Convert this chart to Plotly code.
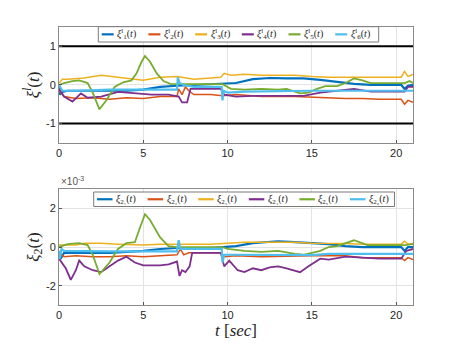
import plotly.graph_objects as go

# ---- data ----
colors = ["#0072BD", "#D95319", "#EDB120", "#7E2F8E", "#77AC30", "#4DBEEE"]

# top panel: xi^l_i(t)
xi1_t = [0, 0.05, 0.2, 0.5, 2, 4, 5, 6, 7, 8, 9.6, 10.5, 11.5, 12.5, 13.5, 14.5, 15.5, 16.5, 17.5, 18.5, 20.3, 20.5, 20.7, 21]
xi1_v = [-0.05, -0.25, -0.18, -0.15, -0.15, -0.15, -0.12, -0.05, -0.02, 0.0, 0.02, 0.05, 0.15, 0.18, 0.17, 0.17, 0.13, 0.08, 0.03, 0.0, 0.0, -0.1, -0.02, 0.0]

xi2_t = [0, 0.3, 1, 2, 3, 4, 5, 6, 7, 7.1, 7.3, 7.5, 7.7, 8, 9, 9.7, 10.5, 12, 14, 15, 16, 17, 18, 19, 20.3, 20.5, 20.7, 21]
xi2_v = [-0.15, -0.3, -0.35, -0.33, -0.37, -0.33, -0.35, -0.3, -0.3, -0.1, -0.25, -0.05, -0.15, -0.25, -0.25, -0.28, -0.25, -0.3, -0.3, -0.32, -0.33, -0.35, -0.35, -0.37, -0.37, -0.5, -0.4, -0.45]

xi3_t = [0, 0.2, 0.5, 1.5, 2.5, 3.5, 4.5, 5, 6, 7, 8, 9, 9.6, 9.8, 10.2, 11, 12, 13, 14, 15, 16, 17, 18, 19, 20.3, 20.5, 20.7, 20.9, 21]
xi3_v = [0.05, 0.15, 0.15, 0.18, 0.25, 0.2, 0.15, 0.12, 0.2, 0.22, 0.15, 0.18, 0.2, 0.3, 0.25, 0.28, 0.25, 0.25, 0.25, 0.22, 0.2, 0.2, 0.2, 0.2, 0.2, 0.35, 0.22, 0.25, 0.28]

xi4_t = [0, 0.3, 0.8, 1.3, 1.7, 2.5, 3.5, 4.5, 5.5, 6.5, 7.1, 7.3, 7.6, 7.8, 9.6, 9.8, 10.5, 11.5, 12.5, 13.5, 14.5, 15.5, 16.5, 17.5, 18.5, 20.5, 20.7, 21]
xi4_v = [-0.1, -0.3, -0.43, -0.22, -0.33, -0.3, -0.18, -0.22, -0.25, -0.25, -0.3, -0.45, -0.45, -0.1, -0.1, -0.25, -0.3, -0.28, -0.28, -0.27, -0.28, -0.2, -0.15, -0.1, -0.17, -0.17, -0.05, -0.05]

xi5_t = [0, 0.3, 0.8, 1.2, 1.7, 2.0, 2.4, 2.8, 3.3, 3.8, 4.3, 4.6, 4.9, 5.1, 5.4, 5.8, 6.2, 6.6, 7, 8, 9, 9.7, 10.2, 11, 12, 13, 13.5, 14.3, 14.8, 15.3, 15.8, 16.5, 17, 17.5, 18, 18.5, 19.5, 20.5, 20.8, 21]
xi5_v = [0.0, 0.05, 0.1, 0.12, 0.05, -0.2, -0.63, -0.4, -0.05, 0.07, 0.12, 0.3, 0.6, 0.75, 0.6, 0.3, 0.1, 0.03, 0.02, 0.02, 0.02, 0.02, -0.1, -0.12, -0.1, -0.12, -0.1, -0.22, -0.2, -0.1, -0.03, -0.03, 0.05, 0.17, 0.12, 0.05, 0.05, 0.05, 0.1, 0.05]

xi6_t = [0, 0.2, 1, 3, 5, 7, 7.05, 7.15, 7.4, 8, 9.65, 9.7, 9.75, 10, 11, 15, 21]
xi6_v = [0.0, -0.15, -0.15, -0.12, -0.12, -0.12, 0.2, 0.05, 0.0, -0.05, -0.05, -0.4, -0.15, -0.2, -0.17, -0.15, -0.15]

bounds = [1, -1]

# bottom panel: xi_2i(t), units of 1e-3
b1_t = [0, 0.1, 0.3, 1, 2, 3, 4, 5, 6, 7, 8, 9, 9.7, 10.5, 11.5, 12.5, 13, 14, 15, 16, 17, 18, 20.3, 20.5, 20.7, 21]
b1_v = [-0.2, -0.6, -0.3, -0.3, -0.3, -0.3, -0.25, -0.2, -0.1, -0.05, -0.05, -0.05, 0.0, 0.05, 0.2, 0.28, 0.3, 0.25, 0.2, 0.15, 0.05, 0.0, 0.0, -0.2, 0.0, 0.0]

b2_t = [0, 0.3, 1, 2, 3, 4, 5, 6, 7, 7.2, 7.4, 7.7, 8.5, 9.6, 9.8, 10.5, 12, 14, 15, 16, 17, 18, 20.3, 20.5, 20.7, 21]
b2_v = [-0.3, -0.5, -0.45, -0.5, -0.5, -0.45, -0.5, -0.45, -0.4, -0.1, -0.4, -0.3, -0.3, -0.3, -0.5, -0.45, -0.5, -0.45, -0.45, -0.45, -0.45, -0.55, -0.55, -0.7, -0.55, -0.65]

b3_t = [0, 1, 1.5, 2.5, 3.5, 4.5, 5, 6, 7, 8, 9, 10, 11, 12, 13, 14, 15, 16, 17, 18, 20.3, 20.5, 20.7, 21]
b3_v = [0.1, 0.1, 0.2, 0.2, 0.15, 0.12, 0.1, 0.15, 0.15, 0.15, 0.15, 0.2, 0.25, 0.25, 0.25, 0.25, 0.2, 0.2, 0.18, 0.15, 0.15, 0.3, 0.15, 0.2]

b4_t = [0, 0.4, 0.7, 1.0, 1.2, 1.5, 2, 2.5, 3, 3.5, 4, 4.5, 5, 6, 6.5, 7, 7.15, 7.3, 7.5, 7.75, 7.9, 9.6, 9.8, 10.1, 10.6, 11, 11.5, 12, 12.5, 13, 13.5, 14.3, 14.8, 15.5, 16, 17, 18, 19, 20.3, 20.6, 21]
b4_v = [-0.6, -1.1, -1.7, -1.2, -0.7, -1.0, -1.2, -1.3, -1.0, -0.7, -0.5, -0.8, -0.95, -0.95, -0.9, -0.75, -1.5, -1.2, -1.3, -1.0, -0.3, -0.3, -1.0, -0.7, -1.2, -1.3, -1.1, -1.2, -1.05, -1.0, -1.1, -1.3, -1.0, -0.6, -0.65, -0.5, -0.55, -0.6, -0.6, -0.2, -0.1]

b5_t = [0, 0.5, 1.2, 1.7, 2.0, 2.4, 3, 3.5, 4, 4.5, 4.8, 5.1, 5.4, 6, 6.5, 7, 8, 9, 9.7, 10, 11, 12, 13, 14, 14.5, 15.5, 16, 16.5, 17.5, 18.3, 19.5, 20.5, 21]
b5_v = [0.0, 0.15, 0.2, 0.1, -0.4, -1.4, -0.8, -0.1, 0.2, 0.25, 1.0, 1.7, 1.4, 0.5, 0.05, 0.0, 0.0, 0.0, 0.0, -0.1, -0.2, -0.25, -0.2, -0.35, -0.4, -0.2, 0.0, 0.05, 0.35, 0.1, 0.1, 0.1, 0.15]

b6_t = [0, 0.05, 0.15, 0.3, 3, 7, 7.1, 7.2, 7.4, 9.65, 9.7, 9.8, 10, 15, 16, 21]
b6_v = [-0.2, -0.6, -0.1, -0.2, -0.22, -0.22, 0.35, -0.1, -0.1, -0.1, -0.8, -0.4, -0.4, -0.42, -0.35, -0.35]

top_series = [(xi1_t, xi1_v), (xi2_t, xi2_v), (xi3_t, xi3_v), (xi4_t, xi4_v), (xi5_t, xi5_v), (xi6_t, xi6_v)]
bot_series = [(b1_t, b1_v), (b2_t, b2_v), (b3_t, b3_v), (b4_t, b4_v), (b5_t, b5_v), (b6_t, b6_v)]
top_names = [f"<i>ξ</i><sup>l</sup><sub>{i}</sub>(<i>t</i>)" for i in range(1, 7)]
sub_digits = "₁₂₃₄₅₆"
bot_names = [f"<i>ξ</i><sub>2{sub_digits[i]}</sub>(<i>t</i>)" for i in range(6)]
widths = [2.2, 1.5, 1.5, 1.8, 1.8, 2.2]

x_ticks = [0, 5, 10, 15, 20]
top_ticks = [-1, 0, 1]
bot_ticks = [-2, 0, 2]

SERIF = "Liberation Serif"
SANS = "Liberation Sans"
TXT = "#262626"

W, H = 457, 343
ML, MR, MT, MB = 59, 44, 27, 38
PW, PH = W - ML - MR, H - MT - MB


def px(x):
    return (x - ML) / PW


def py(y):
    return (H - MB - y) / PH


fig = go.Figure()

for (t, v), name, c, w in zip(top_series, top_names, colors, widths):
    fig.add_trace(go.Scatter(x=t, y=v, mode="lines", name=name, line=dict(color=c, width=w),
                             xaxis="x", yaxis="y", showlegend=False))
for b in bounds:
    fig.add_trace(go.Scatter(x=[0, 21], y=[b, b], mode="lines", line=dict(color="black", width=2),
                             showlegend=False, xaxis="x", yaxis="y"))
for (t, v), name, c, w in zip(bot_series, bot_names, colors, widths):
    fig.add_trace(go.Scatter(x=t, y=v, mode="lines", name=name, line=dict(color=c, width=w),
                             xaxis="x2", yaxis="y2", showlegend=False))

# hand-drawn legends (MATLAB style: short samples, tight spacing)
def draw_legend(names, box, first_line, step, line_len):
    x0, y0, x1, y1 = box
    fig.add_shape(type="rect", xref="paper", yref="paper", x0=px(x0), x1=px(x1),
                  y0=py(y1), y1=py(y0), line=dict(color="#7a7a7a", width=1), fillcolor="white",
                  layer="above")
    yc = (y0 + y1) / 2
    for i, (name, c) in enumerate(zip(names, colors)):
        lx = first_line + i * step
        fig.add_shape(type="line", xref="paper", yref="paper", x0=px(lx), x1=px(lx + line_len),
                      y0=py(yc), y1=py(yc), line=dict(color=c, width=2.2), layer="above")
        fig.add_annotation(text=name, xref="paper", yref="paper", x=px(lx + line_len + 1.5),
                           y=py(yc), xanchor="left", yanchor="middle", showarrow=False,
                           font=dict(family=SERIF, size=10, color=TXT))


draw_legend(top_names, (98.3, 26.7, 378.7, 42.0), 101.7, 46.7, 12)
draw_legend(bot_names, (93.7, 192.0, 394.5, 206.5), 97.0, 50.6, 15.5)

axis_common = dict(range=[0, 21], showgrid=True, gridcolor="#e3e3e3", gridwidth=1,
                   showline=True, linecolor="#8a8a8a", linewidth=1, mirror=True,
                   ticks="inside", ticklen=3, tickcolor="#555", zeroline=False, automargin=False,
                   tickfont=dict(family=SANS, size=11, color=TXT))

fig.update_layout(
    width=W, height=H,
    margin=dict(l=ML, r=MR, t=MT, b=MB),
    paper_bgcolor="white", plot_bgcolor="white",
    showlegend=False,
    xaxis=dict(axis_common, domain=[0, 1], anchor="y", tickvals=x_ticks),
    yaxis=dict(axis_common, domain=[0.583, 1], anchor="x", range=[-1.5, 1.5],
               tickvals=top_ticks, ticktext=["-1", "0", "1"],
               title=dict(text="<i>ξ</i><sup><i>l</i></sup>(<i>t</i>)",
                          font=dict(family=SERIF, size=17, color=TXT), standoff=2)),
    xaxis2=dict(axis_common, domain=[0, 1], anchor="y2", tickvals=x_ticks,
                title=dict(text="<i>t</i> [<i>sec</i>]", font=dict(family=SERIF, size=17, color=TXT),
                           standoff=2)),
    yaxis2=dict(axis_common, domain=[0, 0.417], anchor="x2", range=[-3, 3],
                tickvals=bot_ticks, ticktext=["-2", "0", "2"],
                title=dict(text="<i>ξ</i><sub>2</sub>(<i>t</i>)",
                           font=dict(family=SERIF, size=17, color=TXT), standoff=2)),
)

fig.add_annotation(text="×10<sup>-3</sup>", xref="paper", yref="paper", x=0, y=0.417,
                   xanchor="left", yanchor="bottom", showarrow=False,
                   font=dict(family=SANS, size=10, color="#555"))

# drop the page's default body margin so the figure sits at the window's corner
fig.write_html("out.html", config={"displayModeBar": False},
               post_script="document.body.style.margin='0';")
